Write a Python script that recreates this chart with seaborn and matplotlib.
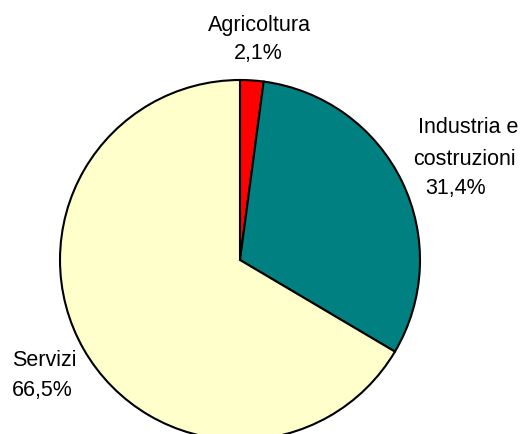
import matplotlib
matplotlib.use("Agg")
import matplotlib.pyplot as plt
import seaborn as sns

sectors = ["Agricoltura", "Industria e\ncostruzioni", "Servizi"]
shares = [2.1, 31.4, 66.5]
colors = ["#FF0000", "#008080", "#FFFFCC"]

sns.set_theme(style="white")
plt.rcParams["font.family"] = ["Liberation Sans", "DejaVu Sans"]

W, H = 520, 434
fig = plt.figure(figsize=(W / 100, H / 100), dpi=100)
fig.patch.set_facecolor("white")

# pie centre (240, 260) px, radius 180 px
cx, cy, r = 240, 260, 180
ax = fig.add_axes([(cx - r) / W, (H - cy - r) / H, 2 * r / W, 2 * r / H])
wedges, _ = ax.pie(
    shares,
    colors=colors,
    startangle=90,
    counterclock=False,
    wedgeprops=dict(edgecolor="black", linewidth=1.5),
)
for w in wedges:
    w.set_clip_on(False)
ax.set_xlim(-1, 1)
ax.set_ylim(-1, 1)
ax.set_axis_off()

# label lines: (x px, baseline y px, ha) per line
layout = [
    [(259.7, 31.5, "center"), (258.5, 59, "center")],
    [(418, 133, "left"), (413, 165, "left"), (425, 194, "left")],
    [(12, 366, "left"), (12, 396, "left")],
]
for name, val, pos in zip(sectors, shares, layout):
    lines = name.split("\n") + [f"{val:.1f}".replace(".", ",") + "%"]
    for text, (x, y, ha) in zip(lines, pos):
        fig.text(x / W, 1 - y / H, text, ha=ha, va="baseline",
                 fontsize=15.5, color="black")

fig.savefig("out.png", dpi=100)
